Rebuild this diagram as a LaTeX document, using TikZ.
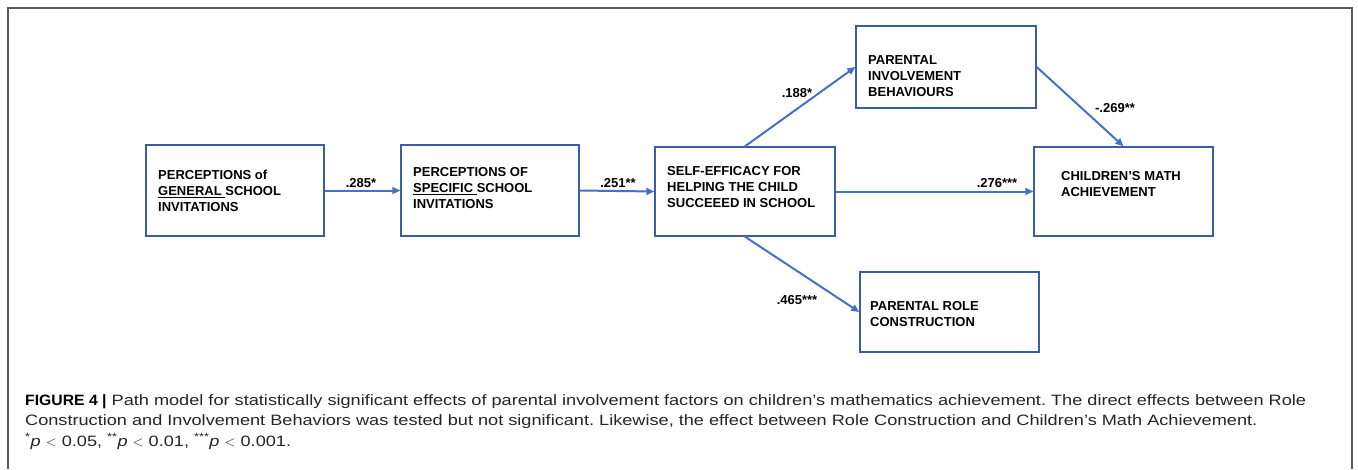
\documentclass[tikz,border=0pt]{standalone}
\usepackage{fontspec}
\setmainfont{Liberation Sans}
\newfontfamily\capfont[FakeStretch=1.21]{Liberation Sans}
\newfontfamily\capbold[FakeStretch=1.05]{Liberation Sans Bold}
\usetikzlibrary{arrows.meta}
\definecolor{boxblue}{HTML}{3A5DAA}
\definecolor{arrblue}{HTML}{4472C4}
\definecolor{framegray}{HTML}{5A5A5A}
\definecolor{captext}{HTML}{262626}
\frenchspacing
\begin{document}
\begin{tikzpicture}[x=1pt,y=-1pt,
  pbox/.style={draw=boxblue, line width=1.4pt, inner sep=0pt},
  boxtext/.style={anchor=west, align=left, inner sep=0pt, font=\fontsize{13}{16}\selectfont\bfseries},
  lab/.style={inner sep=0pt, font=\fontsize{13}{16}\selectfont\bfseries},
  conn/.style={draw=arrblue, line width=2pt, -{Triangle[length=8pt,width=7pt]}},
  captxt/.style={anchor=base west, inner sep=0pt, text=captext, font=\fontsize{15}{20}\capfont}]
\fill[white] (0,0) rectangle (1358,469);
\useasboundingbox (0,0) rectangle (1358,469);
\draw[framegray, line width=1.5pt] (8,469) -- (8,8) -- (1352,8) -- (1352,469);

% boxes
\node[pbox, minimum width=178pt, minimum height=91pt] (b1) at (235,190.5) {};
\node[pbox, minimum width=178pt, minimum height=91pt] (b2) at (490,190.5) {};
\node[pbox, minimum width=180pt, minimum height=89pt] (b3) at (745,191.5) {};
\node[pbox, minimum width=180pt, minimum height=82pt] (b4) at (946,67) {};
\node[pbox, minimum width=179pt, minimum height=89pt] (b5) at (1123.5,191.5) {};
\node[pbox, minimum width=179pt, minimum height=80pt] (b6) at (949.5,312) {};

% box texts
\node[boxtext] (t1) at (158,191) {PERCEPTIONS of\\\underline{GENERAL\ }SCHOOL\\INVITATIONS};
\node[boxtext] (t2) at (413,188) {PERCEPTIONS OF\\\underline{SPECIFIC\ }SCHOOL\\INVITATIONS};
\node[boxtext] (t3) at (667,187) {SELF-EFFICACY FOR\\HELPING THE CHILD\\SUCCEEED IN SCHOOL};
\node[boxtext] (t4) at (868,76.5) {PARENTAL\\INVOLVEMENT\\BEHAVIOURS};
\node[boxtext] (t5) at (1061,184) {CHILDREN’S MATH\\ACHIEVEMENT};
\node[boxtext] (t6) at (870,314) {PARENTAL ROLE\\CONSTRUCTION};

% connectors
\draw[conn] (b1.east) -- (b2.west);
\draw[conn] (b2.east) -- (b3.west);
\draw[conn] (b3.east) -- (b5.west);
\draw[conn] (b3.north) -- (b4.west);
\draw[conn] (b4.east) -- (b5.north);
\draw[conn] (b3.south) -- (b6.west);

% labels
\node[lab] (l1) at (361,183) {.285*};
\node[lab] (l2) at (618,183) {.251**};
\node[lab] (l3) at (997,183) {.276***};
\node[lab] (l4) at (797,93) {.188*};
\node[lab] (l5) at (1115,108) {-.269**};
\node[lab] (l6) at (797,300) {.465***};

% caption
\node[captxt] (c1) at (25,405) {{\color{black}\capbold FIGURE 4 |} Path model for statistically significant effects of parental involvement factors on children’s mathematics achievement. The direct effects between Role};
\node[captxt] (c2) at (25,425.5) {Construction and Involvement Behaviors was tested but not significant. Likewise, the effect between Role Construction and Children’s Math Achievement.};
\node[captxt] (c3) at (25,446) {\textsuperscript{*}\textit{p} $<$ 0.05, \textsuperscript{**}\textit{p} $<$ 0.01, \textsuperscript{***}\textit{p} $<$ 0.001.};
\end{tikzpicture}
\end{document}
